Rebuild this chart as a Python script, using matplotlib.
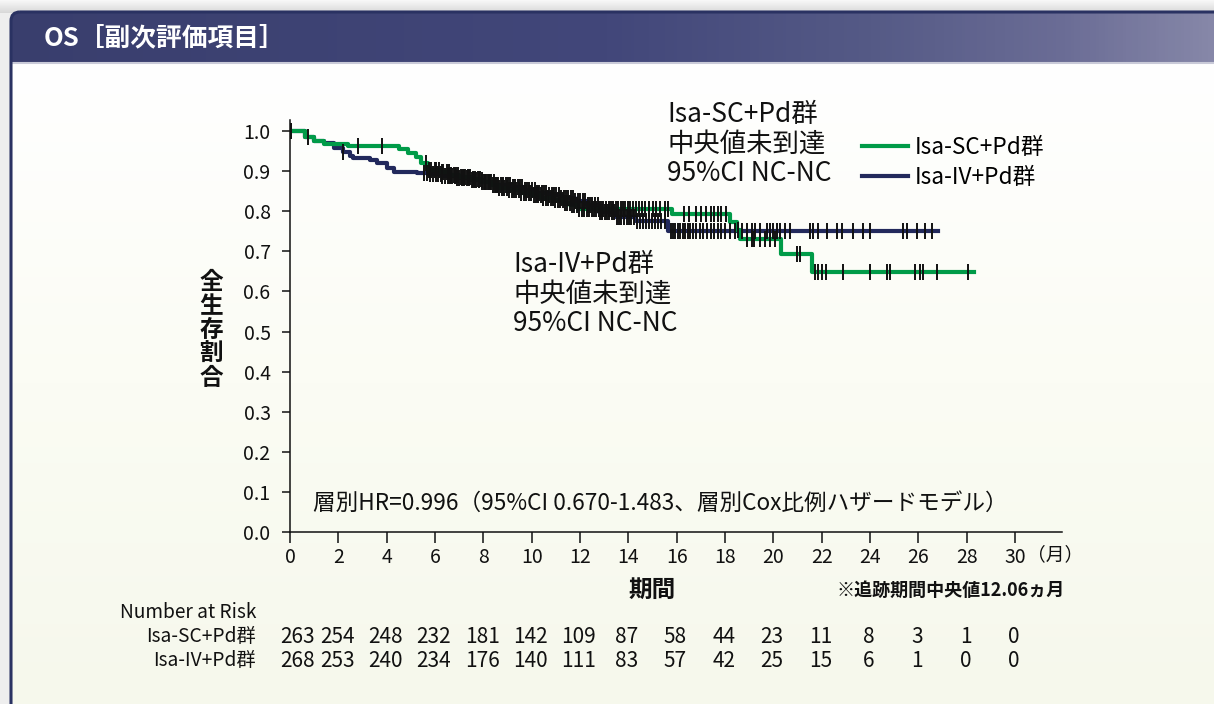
import numpy as np
import matplotlib
matplotlib.use('Agg')
import matplotlib.pyplot as plt
from matplotlib.patches import FancyBboxPatch, Rectangle
from matplotlib.colors import LinearSegmentedColormap
from matplotlib.lines import Line2D
import matplotlib.transforms as mtransforms

plt.rcParams['font.family'] = ['Noto Sans CJK JP', 'DejaVu Sans']

# ---------------- data ----------------
sc_time = [0, 0.6, 1.0, 1.4, 2.4, 4.5, 4.9, 5.2, 5.4, 5.7, 6.2, 6.6, 7.0, 7.5, 7.9,
           8.3, 8.6, 9.0, 9.5, 10.0, 10.4, 10.9, 11.3, 11.6, 11.9, 15.8, 18.2, 18.5,
           18.6, 20.3, 21.6, 28.3]
sc_surv = [1.0, 0.986, 0.976, 0.968, 0.963, 0.954, 0.945, 0.936, 0.92, 0.903, 0.897,
           0.891, 0.886, 0.880, 0.874, 0.866, 0.858, 0.852, 0.846, 0.840, 0.834, 0.828,
           0.821, 0.815, 0.806, 0.793, 0.774, 0.753, 0.730, 0.693, 0.649, 0.649]

iv_time = [0, 0.6, 1.0, 1.4, 1.8, 2.2, 2.5, 2.6, 3.3, 3.6, 4.0, 4.3, 5.25, 5.7, 6.3,
           6.9, 7.5, 8.0, 8.5, 9.2, 9.7, 10.2, 10.7, 11.2, 11.8, 12.3, 12.8, 13.5,
           14.3, 15.64, 26.8]
iv_surv = [1.0, 0.986, 0.976, 0.970, 0.958, 0.948, 0.938, 0.932, 0.928, 0.920, 0.908,
           0.898, 0.895, 0.893, 0.888, 0.882, 0.877, 0.872, 0.866, 0.860, 0.852, 0.846,
           0.840, 0.833, 0.826, 0.815, 0.799, 0.786, 0.776, 0.751, 0.751]

sc_censor = [0.05, 0.73, 2.8, 3.8,
             5.62, 5.75, 5.85, 5.98, 6.05, 6.15, 6.28, 6.35, 6.48, 6.57, 6.66, 6.78,
             6.86, 6.97, 7.08, 7.15, 7.26, 7.38, 7.45, 7.58, 7.67, 7.76, 7.88, 7.95,
             8.07, 8.18, 8.26, 8.38, 8.47, 8.58, 8.66, 8.78, 8.87, 8.98, 9.07, 9.18,
             9.27, 9.36, 9.48, 9.57, 9.68, 9.77, 9.88, 9.96, 10.08, 10.17, 10.28, 10.37,
             10.48, 10.58, 10.66, 10.78, 10.88, 10.97, 11.08, 11.17, 11.28, 11.38,
             11.47, 11.58, 11.68, 11.77, 11.88, 11.97, 12.08, 12.18, 12.27, 12.38,
             12.48, 12.57, 12.68, 12.77, 12.88, 12.97, 13.08, 13.18, 13.28, 13.38,
             13.47, 13.58, 13.68, 13.78, 13.88, 13.98, 14.08, 14.2, 14.32, 14.45,
             14.58, 14.7, 14.85, 15.0, 15.15, 15.3, 15.5, 15.65,
             16.3, 16.5, 16.8, 17.0, 17.2, 17.4, 17.55, 17.7, 17.85, 18.05,
             18.55, 18.9, 19.1, 19.2, 19.45, 19.65, 19.86, 20.07, 20.98, 21.1, 21.72,
             21.85, 22.01, 22.18, 22.88, 23.99, 24.70, 24.82, 25.86, 26.07, 26.19,
             26.77, 28.05]
iv_censor = [0.05, 2.2,
             5.55, 5.68, 5.8, 5.92, 6.03, 6.12, 6.23, 6.31, 6.42, 6.53, 6.61, 6.72,
             6.83, 6.92, 7.01, 7.13, 7.22, 7.33, 7.41, 7.52, 7.63, 7.71, 7.82, 7.93,
             8.02, 8.11, 8.23, 8.32, 8.43, 8.51, 8.62, 8.73, 8.81, 8.92, 9.03, 9.12,
             9.21, 9.33, 9.42, 9.51, 9.62, 9.73, 9.82, 9.91, 10.02, 10.13, 10.22,
             10.31, 10.42, 10.53, 10.61, 10.72, 10.83, 10.92, 11.01, 11.12, 11.23,
             11.32, 11.41, 11.52, 11.63, 11.72, 11.81, 11.93, 12.02, 12.11, 12.22,
             12.33, 12.42, 12.51, 12.62, 12.73, 12.82, 12.91, 13.02, 13.13, 13.22,
             13.31, 13.42, 13.53, 13.62, 13.71, 13.82, 13.93, 14.02, 14.12, 14.22,
             14.35, 14.48, 14.6, 14.72, 14.85, 14.98, 15.1, 15.22, 15.35, 15.5,
             15.75, 15.85, 15.95, 16.05, 16.15, 16.25, 16.35, 16.45, 16.55, 16.68,
             16.8, 16.95, 17.1, 17.25, 17.4, 17.55, 17.7, 17.85, 18.0, 18.2, 18.41,
             18.7, 18.91, 19.11, 19.24, 19.45, 19.74, 19.86, 19.98, 20.15, 20.27,
             20.48, 20.69, 21.51, 21.64, 21.84, 22.22, 22.63, 22.84, 23.29, 23.71,
             24.0, 25.36, 25.53, 25.94, 26.27, 26.56]

risk_times = list(range(0, 31, 2))
risk_sc = [263, 254, 248, 232, 181, 142, 109, 87, 58, 44, 23, 11, 8, 3, 1, 0]
risk_iv = [268, 253, 240, 234, 176, 140, 111, 83, 57, 42, 25, 15, 6, 1, 0, 0]

yticks = [0.0, 0.1, 0.2, 0.3, 0.4, 0.5, 0.6, 0.7, 0.8, 0.9, 1.0]
xticks = list(range(0, 31, 2))

label_sc = 'Isa-SC+Pd群'
label_iv = 'Isa-IV+Pd群'

GREEN = '#009b48'
NAVY = '#22295c'
INK = '#111111'

# ---------------- figure ----------------
W, H = 1214, 704
fig = plt.figure(figsize=(W / 100, H / 100), dpi=100)


def fx(x):
    return x / W


def fy(y):
    return 1 - y / H


bg = fig.add_axes([0, 0, 1, 1], zorder=0)
bg.set_xlim(0, W)
bg.set_ylim(H, 0)
bg.axis('off')
bg.add_patch(Rectangle((0, 0), W, H, color='#eeeeee', zorder=0))
shade = np.linspace(0, 1, 30).reshape(-1, 1)
bg.imshow(shade, extent=(0, W, 13, 0), origin='upper', aspect='auto', zorder=1,
          cmap=LinearSegmentedColormap.from_list('t', ['#f8f8f8', '#d8d8d8']))

card = FancyBboxPatch((11, 12), W + 30, H + 30,
                      boxstyle='round,pad=0,rounding_size=9',
                      fc='none', ec='#2a3262', lw=2.2, zorder=5)
bg.add_patch(card)

body = np.linspace(0, 1, 200).reshape(-1, 1)
im_body = bg.imshow(body, extent=(0, W, H, 62), origin='upper', aspect='auto', zorder=2,
                    cmap=LinearSegmentedColormap.from_list('b', ['#ffffff', '#fbfcf4', '#f6f8ec']))
im_body.set_clip_path(card)

head = np.linspace(0, 1, 400).reshape(1, -1)
hcmap = LinearSegmentedColormap.from_list(
    'h', [(0, '#393e6d'), (0.5, '#42477a'), (0.72, '#555a86'), (0.88, '#6b6d96'), (1, '#8687a8')])
im_head = bg.imshow(head, extent=(0, W, 62, 12), origin='upper', aspect='auto', zorder=3,
                    cmap=hcmap)
im_head.set_clip_path(card)
bg.plot([11, W], [62.5, 62.5], color='#c9cad8', lw=1.5, zorder=4)

fig.text(fx(44), fy(38), 'OS［副次評価項目］', color='white', fontsize=18.5,
         fontweight='bold', va='center', ha='left')

# ---------------- main axes ----------------
ax = fig.add_axes([fx(290), fy(532), 772 / W, 412 / H], zorder=3)
ax.patch.set_alpha(0)
ax.set_xlim(0, 30 * 772 / 725)
ax.set_ylim(0, 412 / 401)

ax.step(iv_time, iv_surv, where='post', color=NAVY, lw=3.0, zorder=3)
ax.step(sc_time, sc_surv, where='post', color=GREEN, lw=3.0, zorder=4)


def surv_at(times, surv, c):
    idx = np.searchsorted(np.array(times), np.array(c), side='right') - 1
    return np.array(surv)[idx]


ax.plot(iv_censor, surv_at(iv_time, iv_surv, iv_censor), ls='none', marker='|',
        ms=11, mew=1.4, color=INK, zorder=5)
ax.plot(sc_censor, surv_at(sc_time, sc_surv, sc_censor), ls='none', marker='|',
        ms=11, mew=1.4, color=INK, zorder=5)

for s in ['top', 'right']:
    ax.spines[s].set_visible(False)
for s in ['left', 'bottom']:
    ax.spines[s].set_linewidth(1.1)
    ax.spines[s].set_color(INK)

ax.set_yticks(yticks)
ax.set_yticklabels([f'{v:.1f}' for v in yticks])
ax.set_xticks(xticks)
ax.set_xticklabels([str(v) for v in xticks])
ax.tick_params(axis='y', direction='out', length=6, width=1.1, pad=8, labelsize=14,
               colors=INK)
ax.tick_params(axis='x', direction='out', length=8, width=1.1, pad=3, labelsize=14,
               colors=INK)

fig.text(fx(1055), fy(555), '（月）', fontsize=13.5, ha='center', va='center', color=INK)

# legend
handles = [Line2D([], [], color=GREEN, lw=3.0), Line2D([], [], color=NAVY, lw=3.0)]
fig.legend(handles, [label_sc, label_iv], loc='upper left',
           bbox_to_anchor=(fx(842), fy(116)), frameon=False, fontsize=16.3,
           handlelength=2.0, handletextpad=0.3, labelspacing=0.3)

# annotations
fig.text(fx(667), fy(101), label_sc + '\n中央値未到達\n95%CI NC-NC', fontsize=19,
         ha='left', va='top', linespacing=1.12, color=INK)
fig.text(fx(513), fy(251), label_iv + '\n中央値未到達\n95%CI NC-NC', fontsize=19,
         ha='left', va='top', linespacing=1.12, color=INK)
fig.text(fx(313), fy(503), '層別HR=0.996（95%CI 0.670-1.483、層別Cox比例ハザードモデル）',
         fontsize=16.3, ha='left', va='center', color=INK)

# y label (stacked)
fig.text(fx(211), fy(330), '\n'.join('全生存割合'), fontsize=17, fontweight='bold',
         ha='center', va='center', linespacing=1.0, color=INK)

fig.text(fx(652), fy(590), '期間', fontsize=17, fontweight='bold', ha='center',
         va='center', color=INK)
fig.text(fx(1065), fy(590), '※追跡期間中央値12.06ヵ月', fontsize=13, fontweight='bold',
         ha='right', va='center', color=INK)

# number at risk
tr = mtransforms.blended_transform_factory(ax.transData, fig.transFigure)
fig.text(fx(120), fy(613), 'Number at Risk', fontsize=13.8, ha='left', va='center',
         color=INK)
fig.text(fx(256), fy(637), label_sc, fontsize=13.8, ha='right', va='center', color=INK)
fig.text(fx(256), fy(661), label_iv, fontsize=13.8, ha='right', va='center', color=INK)
for i, (t, a, b) in enumerate(zip(risk_times, risk_sc, risk_iv)):
    xo = 0.33 if i == 0 else -0.05
    fig.text(t + xo, fy(637), str(a), transform=tr, fontsize=15, ha='center',
             va='center', color=INK)
    fig.text(t + xo, fy(661), str(b), transform=tr, fontsize=15, ha='center',
             va='center', color=INK)

fig.savefig('out.png', dpi=100)
